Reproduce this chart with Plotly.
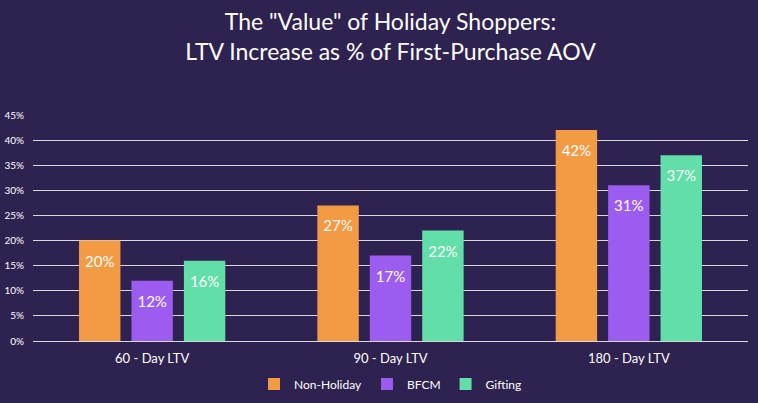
import plotly.graph_objects as go

categories = ["60 - Day LTV", "90 - Day LTV", "180 - Day LTV"]
series_names = ["Non-Holiday", "BFCM", "Gifting"]
non_holiday = [0.20, 0.27, 0.42]
bfcm = [0.12, 0.17, 0.31]
gifting = [0.16, 0.22, 0.37]
tick_vals = [0, 0.05, 0.10, 0.15, 0.20, 0.25, 0.30, 0.35, 0.40, 0.45]
colors = ["#F39A44", "#9D5CF0", "#62DEA8"]

BG = "#2E2250"
FONT = "Lato, Open Sans, sans-serif"
GAP = 0.34

fig = go.Figure()
for name, vals, col in zip(series_names, [non_holiday, bfcm, gifting], colors):
    fig.add_trace(go.Bar(
        x=categories, y=vals, name=name,
        marker=dict(color=col, line=dict(width=0)),
        hoverinfo="skip",
    ))
for name, vals in zip(series_names, [non_holiday, bfcm, gifting]):
    fig.add_trace(go.Scatter(
        x=categories, y=vals, mode="markers+text",
        marker=dict(size=22, color="rgba(0,0,0,0)"),
        text=[f"{round(v*100)}%" for v in vals],
        textposition="bottom center",
        textfont=dict(color="white", size=15, family=FONT),
        showlegend=False, hoverinfo="skip", cliponaxis=False,
    ))

fig.update_layout(
    width=758, height=403,
    paper_bgcolor=BG, plot_bgcolor=BG,
    margin=dict(l=33, r=10, t=115, b=62, autoexpand=False),
    barmode="group", bargap=GAP, bargroupgap=0.21,
    scattermode="group", scattergap=GAP,
    title=dict(
        text="The \"Value\" of Holiday Shoppers:<br>LTV Increase as % of First-Purchase AOV",
        x=0.5, xanchor="center", xref="paper",
        yref="container", y=1 - 30 / 403, yanchor="middle",
        font=dict(family=FONT, size=23, color="white"),
    ),
    font=dict(family=FONT, color="white"),
    showlegend=True,
    legend=dict(orientation="h", x=0.5, xanchor="center", y=-0.19, yanchor="middle",
                font=dict(size=12, color="white", family=FONT),
                itemwidth=30, tracegroupgap=0, bgcolor="rgba(0,0,0,0)"),
)
fig.update_yaxes(
    range=[0, 0.45], tickvals=tick_vals, tickformat=".0%",
    showgrid=True, gridcolor="#D9D9D9", gridwidth=1.2,
    zeroline=True, zerolinecolor="#D9D9D9", zerolinewidth=1.2,
    tickfont=dict(size=10, color="white", family=FONT),
    ticks="", ticklabelstandoff=8, showline=False,
)
fig.update_xaxes(
    tickfont=dict(size=13, color="white", family=FONT),
    showline=False, ticks="", showgrid=False, ticklabelstandoff=8,
)

fig.write_html("out.html")
